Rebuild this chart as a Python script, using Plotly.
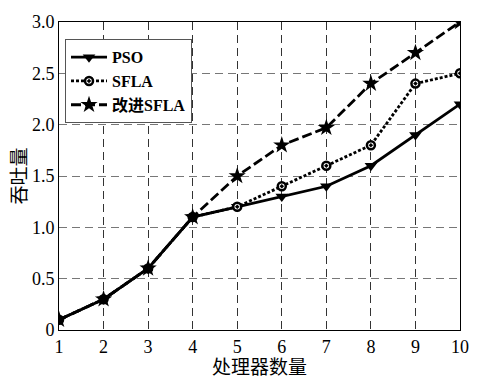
import plotly.graph_objects as go

x_vals = [1, 2, 3, 4, 5, 6, 7, 8, 9, 10]
pso = [0.1, 0.3, 0.6, 1.1, 1.2, 1.3, 1.4, 1.6, 1.9, 2.2]
sfla = [0.1, 0.3, 0.6, 1.1, 1.2, 1.4, 1.6, 1.8, 2.4, 2.5]
improved = [0.1, 0.3, 0.6, 1.1, 1.5, 1.8, 1.97, 2.4, 2.7, 3.0]
y_ticks = [0, 0.5, 1.0, 1.5, 2.0, 2.5, 3.0]
y_ticktext = ["0", "0.5", "1.0", "1.5", "2.0", "2.5", "3.0"]

FONT = "Liberation Serif, Noto Sans CJK SC, serif"

fig = go.Figure()
fig.add_trace(go.Scatter(x=x_vals, y=pso, name="PSO", mode="lines+markers",
                         line=dict(color="black", width=2.8, dash="solid"),
                         marker=dict(symbol="triangle-down", size=11, color="black")))
fig.add_trace(go.Scatter(x=x_vals, y=sfla, name="SFLA", mode="lines+markers",
                         line=dict(color="black", width=2.8, dash="3px,2px"),
                         marker=dict(symbol="circle-dot", size=8, color="white",
                                     line=dict(color="black", width=2.5))))
fig.add_trace(go.Scatter(x=x_vals, y=improved, name="改进SFLA", mode="lines+markers",
                         line=dict(color="black", width=2.8, dash="10px,4px"),
                         marker=dict(symbol="star", size=13, color="black")))

fig.update_layout(
    width=481, height=382,
    margin=dict(l=59, r=14, t=16, b=45),
    paper_bgcolor="white", plot_bgcolor="white",
    font=dict(family=FONT, size=17, color="black"),
    legend=dict(x=0.015, y=0.944, xanchor="left", yanchor="top",
                bgcolor="white", bordercolor="#555555", borderwidth=1,
                font=dict(family=FONT, size=16, color="black", weight="bold"),
                tracegroupgap=0, itemwidth=36),
    xaxis=dict(range=[1, 10], tickvals=x_vals, showline=True, linecolor="black",
               linewidth=1, mirror=True, showgrid=True, gridcolor="#333333",
               griddash="8px,5px", gridwidth=1, zeroline=False,
               title=dict(text="处理器数量", standoff=0, font=dict(size=19)),
               tickfont=dict(size=18)),
    yaxis=dict(range=[0, 3], tickvals=y_ticks, ticktext=y_ticktext, showline=True,
               linecolor="black", linewidth=1, mirror=True, showgrid=True,
               gridcolor="#777777", griddash="8px,5px", gridwidth=1, zeroline=False,
               title=dict(text="吞吐量", standoff=0, font=dict(size=19)),
               tickfont=dict(size=18)),
    showlegend=True,
)

fig.write_html("out.html")
